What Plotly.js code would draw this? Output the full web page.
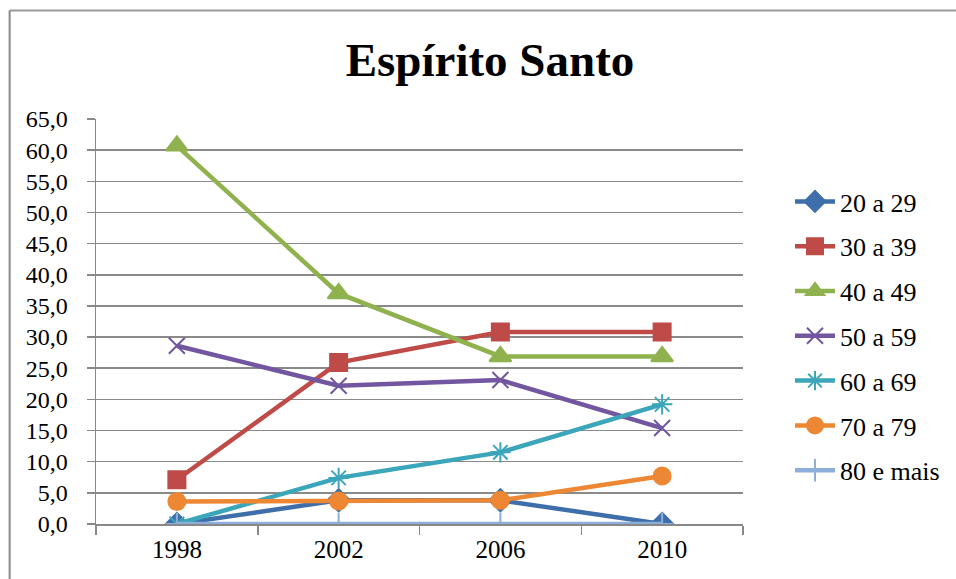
<!DOCTYPE html>
<html>
<head>
<meta charset="utf-8">
<script src="https://cdn.plot.ly/plotly-3.0.1.min.js"></script>
<style>html,body{margin:0;padding:0;background:#fff;}#chart{width:956px;height:579px;}</style>
</head>
<body>
<div id="chart"></div>
<script>
const years = ['1998', '2002', '2006', '2010'];
const seriesNames = ['20 a 29', '30 a 39', '40 a 49', '50 a 59', '60 a 69', '70 a 79', '80 e mais'];
const v20a29 = [0.0, 3.8, 3.8, 0.0];
const v30a39 = [7.1, 25.9, 30.8, 30.8];
const v40a49 = [60.7, 37.0, 26.9, 26.9];
const v50a59 = [28.6, 22.2, 23.1, 15.4];
const v60a69 = [0.0, 7.4, 11.5, 19.2];
const v70a79 = [3.6, 3.7, 3.8, 7.7];
const v80mais = [0.0, 0.0, 0.0, 0.0];
const yTickVals = [0, 5, 10, 15, 20, 25, 30, 35, 40, 45, 50, 55, 60, 65];

const values = [v20a29, v30a39, v40a49, v50a59, v60a69, v70a79, v80mais];
const colors = ['#3F6FAA', '#BE4B48', '#8FB24F', '#7256A0', '#3BA5BA', '#EE8733', '#8DAED8'];
const symbols = ['diamond', 'square', 'triangle-up', 'x-thin-open', 'asterisk-open', 'circle', 'cross-thin-open'];
const sizes = [17, 17, 19, 16, 17, 17, 16];

const FF = 'Liberation Serif, Times New Roman, serif';

const traces = values.map((v, i) => ({
  x: years, y: v, name: seriesNames[i], type: 'scatter', mode: 'lines+markers',
  legendgroup: 'g' + i,
  line: {color: colors[i], width: 4.5},
  marker: {symbol: symbols[i], size: sizes[i], color: colors[i], line: {color: colors[i], width: 2}}
}));

const L = 96, R = 744, T = 119, B = 524;
const W = R - L, H = B - T;
const px = (p) => (p - L) / W;
const py = (p) => (B - p) / H;

const layout = {
  width: 956, height: 579,
  margin: {l: L, r: 956 - R, t: T, b: 579 - B},
  paper_bgcolor: '#fff', plot_bgcolor: '#fff',
  separators: ',.',
  font: {family: FF, size: 24, color: '#000'},
  title: {text: '<b>Espírito Santo</b>', font: {family: FF, size: 47, color: '#000'},
          x: 490 / 956, xanchor: 'center', y: 1 - 60 / 579, yanchor: 'middle', yref: 'container', xref: 'container'},
  xaxis: {type: 'category', range: [-0.5, 3.5], tickson: 'boundaries', ticks: 'outside', ticklen: 9,
          tickcolor: '#888', tickwidth: 1.5, showline: true, linecolor: '#888', linewidth: 1.5,
          showgrid: false, zeroline: false, tickfont: {family: FF, size: 25, color: '#000'}, ticklabelstandoff: 2},
  yaxis: {range: [0, 65], tickvals: yTickVals, tickformat: '.1f', ticks: 'outside', ticklen: 8,
          tickcolor: '#888', tickwidth: 1.5, showline: true, linecolor: '#888', linewidth: 1.5,
          showgrid: true, gridcolor: '#8a8a8a', gridwidth: 1.5, zeroline: false,
          tickfont: {family: FF, size: 24, color: '#000'}, ticklabelstandoff: 14},
  showlegend: true,
  legend: {x: px(790), xanchor: 'left', y: py(178), yanchor: 'top', traceorder: 'grouped',
           tracegroupgap: 8, font: {family: FF, size: 26, color: '#000'}, bgcolor: 'rgba(0,0,0,0)', itemwidth: 40},
  shapes: [
    {type: 'line', xref: 'paper', yref: 'paper', x0: px(9.5), x1: px(960), y0: py(10.5), y1: py(10.5),
     line: {color: '#999', width: 2}},
    {type: 'line', xref: 'paper', yref: 'paper', x0: px(9.5), x1: px(9.5), y0: py(10.5), y1: py(585),
     line: {color: '#888', width: 2}}
  ]
};

Plotly.newPlot('chart', traces, layout, {displayModeBar: false, staticPlot: true});
</script>
</body>
</html>
